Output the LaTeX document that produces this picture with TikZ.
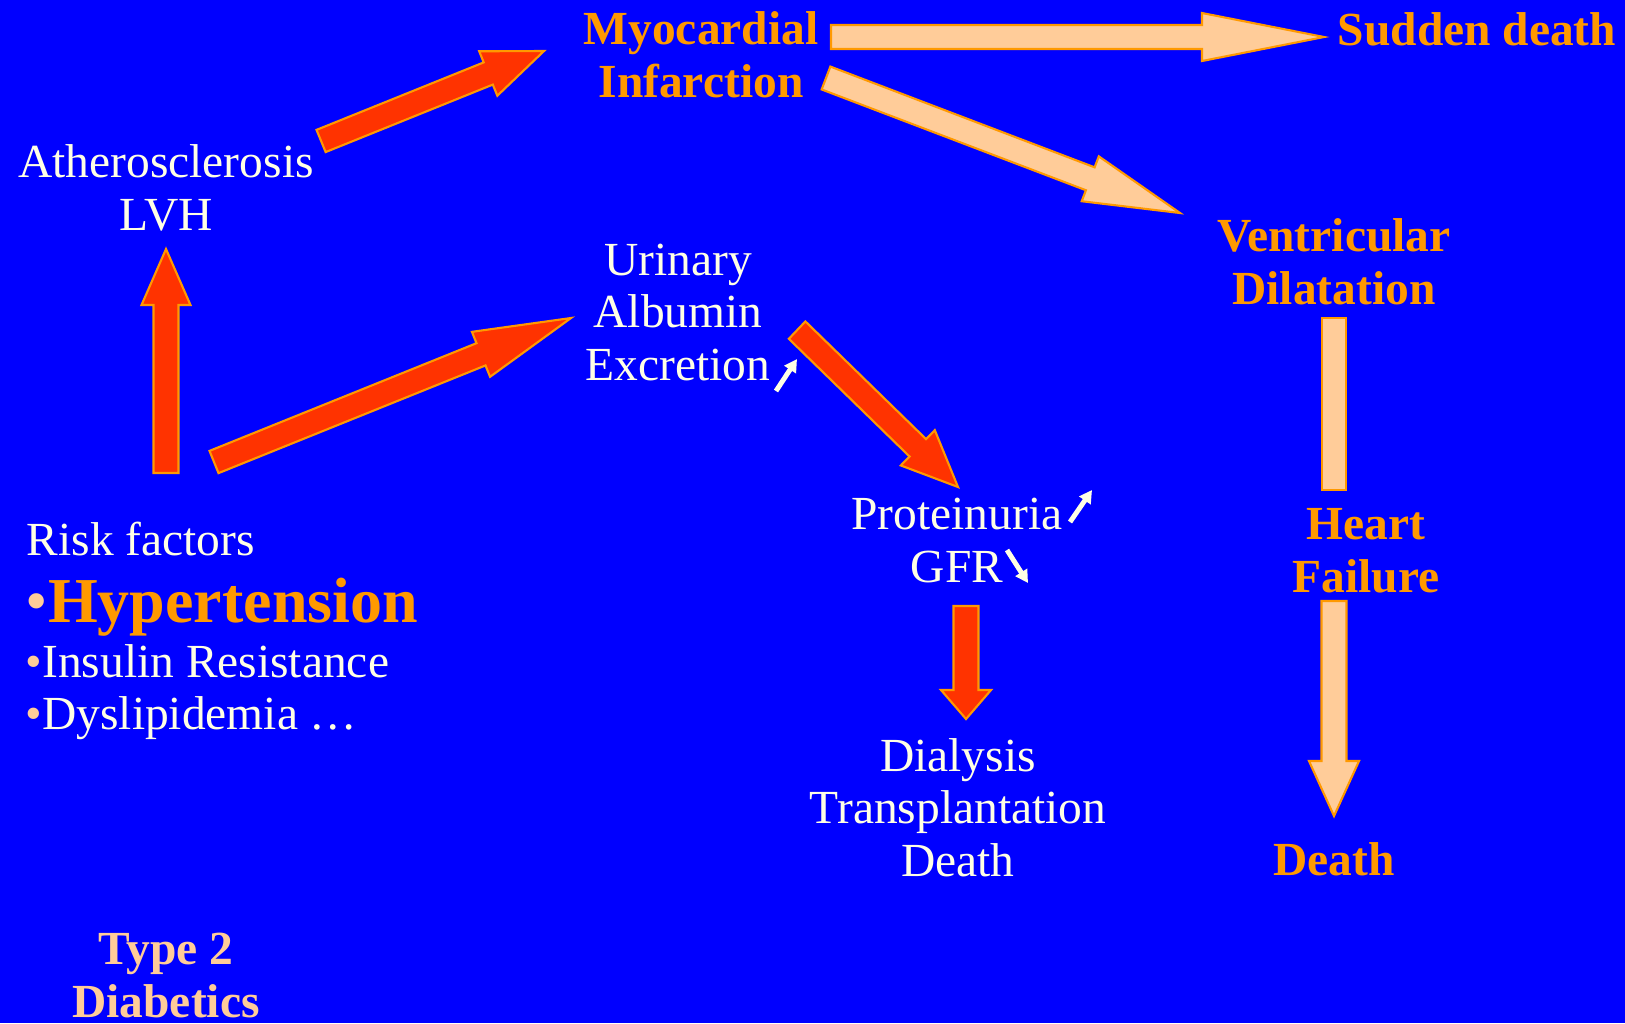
\documentclass[tikz,border=0pt]{standalone}
\usepackage{fontspec}
\setmainfont{Liberation Serif}
\usepackage{tikz}
\usetikzlibrary{calc,arrows.meta}

\definecolor{slideblue}{RGB}{0,0,255}
\definecolor{cream}{RGB}{255,255,229}
\definecolor{amber}{RGB}{255,153,0}
\definecolor{peach}{RGB}{255,204,153}
\definecolor{redfill}{RGB}{255,51,0}

\tikzset{
  % fat arrow: shaft width, head width, head length
  block/.style n args={3}{to path={
      let \p1=(\tikztostart), \p2=(\tikztotarget),
          \n1={atan2(\y2-\y1,\x2-\x1)}, \n2={veclen(\x2-\x1,\y2-\y1)},
          \n3={atan2(#2/2,#3)}, \n4={veclen(#3,#2/2)} in
      ++(\n1+90:#1/2) -- ++(\n1:\n2-#3) -- ++(\n1+90:#2/2-#1/2)
      -- (\tikztotarget) -- ++(\n1+180+\n3:\n4)
      -- ++(\n1+90:#2/2-#1/2) -- ++(\n1+180:\n2-#3) -- cycle}},
  redarrow/.style n args={3}{fill=redfill, draw=amber, line width=0.6pt, block={#1}{#2}{#3}},
  peacharrow/.style n args={3}{fill=peach, draw=amber, line width=0.6pt, block={#1}{#2}{#3}},
  peachbar/.style={fill=peach, draw=amber, line width=0.6pt},
  tick/.style={draw=cream, line width=1.4pt, -{Triangle[length=3.6pt,width=3.8pt]}}
}

\begin{document}
\begin{tikzpicture}[x=0.01cm,y=-0.01cm,
  txt/.style={text=cream, inner sep=0pt, align=center, anchor=base,
              font=\fontsize{13.5}{14.8}\selectfont},
  hot/.style={txt, text=amber, font=\fontsize{13.5}{14.8}\selectfont\bfseries}]
  \useasboundingbox (0,0) rectangle (1625,1023);
  \fill[slideblue] (0,0) rectangle (1625,1023);

  % ends of the fat arrows
  \coordinate (a1) at (166,473);  \coordinate (b1) at (166,249);
  \coordinate (a2) at (214,462);  \coordinate (b2) at (571,318);
  \coordinate (a3) at (321,141);  \coordinate (b3) at (544,51);
  \coordinate (a4) at (831,37);   \coordinate (b4) at (1324,37);
  \coordinate (a5) at (826,78);   \coordinate (b5) at (1180,213);
  \coordinate (a6) at (797,330);  \coordinate (b6) at (958,487);
  \coordinate (a7) at (966,606);  \coordinate (b7) at (966,719);
  \coordinate (a8) at (1322,318); \coordinate (b8) at (1346,490);
  \coordinate (a9) at (1334,601); \coordinate (b9) at (1334,816);

  \draw[redarrow={0.25cm}{0.49cm}{0.56cm}]   (a1) to (b1);
  \draw[redarrow={0.24cm}{0.485cm}{0.97cm}]  (a2) to (b2);
  \draw[redarrow={0.24cm}{0.48cm}{0.60cm}]   (a3) to (b3);
  \draw[peacharrow={0.24cm}{0.48cm}{1.22cm}] (a4) to (b4);
  \draw[peacharrow={0.245cm}{0.48cm}{0.96cm}] (a5) to (b5);
  \draw[redarrow={0.24cm}{0.49cm}{0.56cm}]   (a6) to (b6);
  \draw[redarrow={0.25cm}{0.50cm}{0.29cm}]   (a7) to (b7);
  \draw[peachbar] (a8) rectangle (b8);
  \draw[peacharrow={0.25cm}{0.50cm}{0.55cm}] (a9) to (b9);

  % multi-line nodes sit on their last line
  \node[txt] (ath) at (166,230)  {Atherosclerosis\\LVH};
  \node[hot] (mi)  at (701,97)   {Myocardial\\Infarction};
  \node[hot] (sd)  at (1477,45)  {Sudden death};
  \node[hot] (vd)  at (1334,304) {Ventricular\\Dilatation};
  \node[txt] (uae) at (678,380)  {Urinary\\Albumin\\Excretion};
  \node[txt] (pro) at (957,582)  {Proteinuria\\GFR};
  \node[txt] (dia) at (958,876)  {Dialysis\\Transplantation\\Death};
  \node[hot] (hf)  at (1366,592) {Heart\\Failure};
  \node[hot] (dth) at (1334,875) {Death};
  \node[hot, text=peach] (t2d) at (166,1017) {Type 2\\Diabetics};

  % risk factor list
  \node[txt, anchor=base west] (risk) at (26,555) {Risk factors};
  \node[txt, anchor=base west, font=\fontsize{18.2}{20}\selectfont] (hyp) at (25,622)
    {\textcolor{peach}{•}\textcolor{amber}{\bfseries Hypertension}};
  \node[txt, anchor=base west] (ins) at (25,677) {\textcolor{peach}{•}Insulin Resistance};
  \node[txt, anchor=base west] (dys) at (25,729) {\textcolor{peach}{•}Dyslipidemia …};

  % little up / down marks
  \coordinate (u1) at (776,391);  \coordinate (v1) at (797,359);
  \coordinate (u2) at (1070,522); \coordinate (v2) at (1092,490);
  \coordinate (u3) at (1007,550); \coordinate (v3) at (1028,583);
  \draw[tick] (u1) -- (v1);
  \draw[tick] (u2) -- (v2);
  \draw[tick] (u3) -- (v3);
\end{tikzpicture}
\end{document}
